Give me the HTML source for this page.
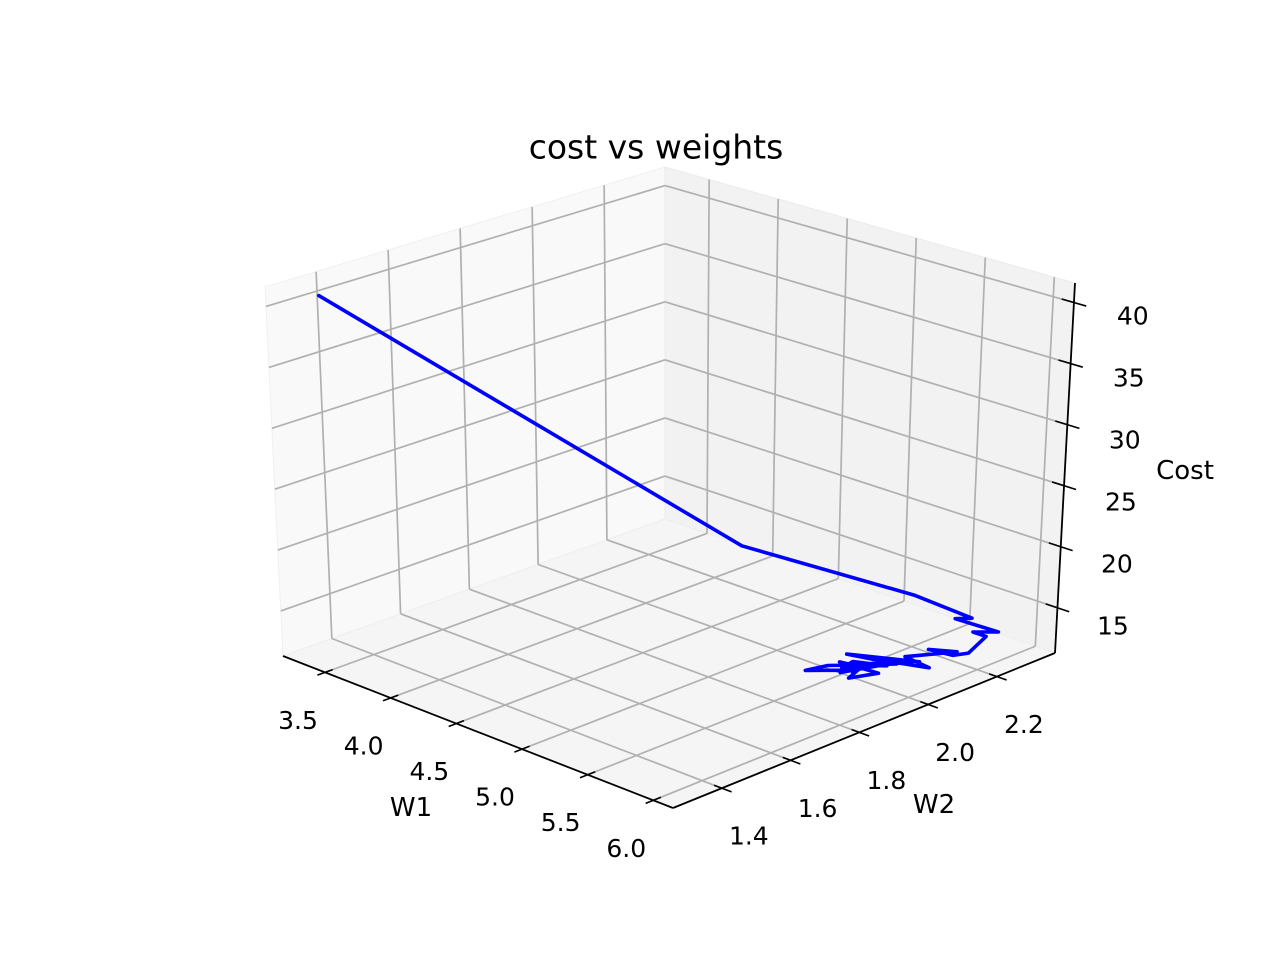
<!DOCTYPE html>
<html><head><meta charset="utf-8"><style>
html,body{margin:0;padding:0;background:#fff;}
svg{display:block;font-family:"DejaVu Sans","Liberation Sans",sans-serif;}
</style></head><body>
<svg id="chart" width="1280" height="960" viewBox="0 0 1280 960" xmlns="http://www.w3.org/2000/svg">
<rect width="1280" height="960" fill="#fff"/>
<text x="656" y="147" font-size="33" text-anchor="middle" dominant-baseline="central">cost vs weights</text>
<g id="panes"></g><g id="grid"></g><g id="axes"></g><g id="series"></g><g id="labels"></g>
</svg>
<script>
const w1Ticks=[3.5,4.0,4.5,5.0,5.5,6.0];
const w2Ticks=[1.4,1.6,1.8,2.0,2.2];
const costTicks=[15,20,25,30,35,40];
const w1Values=[3.38,5.06,5.71,5.97,5.87,6.07,5.93,5.98,5.98,5.94,5.78,5.92,5.76,5.97,5.67,5.87,5.50,5.80,5.54,5.50,5.64,5.69,5.75,5.82,5.55,5.69,5.62,5.60,5.78,5.58,5.72,5.66,5.80,5.62,5.70];
const w2Values=[1.33,1.87,2.12,2.19,2.18,2.23,2.21,2.23,2.18,2.15,2.14,2.17,2.08,2.07,2.03,2.08,2.01,2.04,1.94,1.89,1.94,1.98,1.92,1.98,1.97,1.98,1.95,1.99,2.02,1.96,2.00,1.93,2.06,1.97,1.95];
const costValues=[41,21.5,17.2,15.5,15.2,14.3,14.0,13.6,12.8,12.8,12.8,12.8,12.8,12.8,12.8,12.8,12.8,12.8,12.8,12.8,12.8,12.8,12.8,12.8,12.8,12.8,12.8,12.8,12.8,12.8,12.8,12.8,12.8,12.8,12.8];
const X0=3.18,X1=6.15,Y0=1.258,Y1=2.369,Z0=11.3,Z1=41.6;
const C={"000":[283,656],"100":[673,808],"110":[1055,653],"010":[665,519],
"001":[265,287],"101":[675,423],"111":[1075,283],"011":[665,167]};
function L(a,b,t){return [a[0]+(b[0]-a[0])*t,a[1]+(b[1]-a[1])*t];}
function P(u,v,w){
 const b0=L(L(C["000"],C["100"],u),L(C["010"],C["110"],u),v);
 const b1=L(L(C["001"],C["101"],u),L(C["011"],C["111"],u),v);
 return L(b0,b1,w);}
const U=x=>(x-X0)/(X1-X0),V=y=>(y-Y0)/(Y1-Y0),W=z=>(z-Z0)/(Z1-Z0);
const NS="http://www.w3.org/2000/svg";
function mk(tag,attrs,parent){const e=document.createElementNS(NS,tag);for(const k in attrs)e.setAttribute(k,attrs[k]);document.getElementById(parent).appendChild(e);return e;}
function poly(pts){return pts.map(p=>p[0].toFixed(1)+","+p[1].toFixed(1)).join(" ");}
function line(a,b,stroke,sw,parent,name){const e=mk("line",{x1:a[0],y1:a[1],x2:b[0],y2:b[1],stroke:stroke,"stroke-width":sw},parent);


return e;}
let e;
e=mk("polygon",{points:poly([P(0,0,0),P(0,1,0),P(0,1,1),P(0,0,1)]),fill:"#f9f9f9",stroke:"#f0f0f0"},"panes");


e=mk("polygon",{points:poly([P(0,1,0),P(1,1,0),P(1,1,1),P(0,1,1)]),fill:"#f2f2f2",stroke:"#ebebeb"},"panes");


e=mk("polygon",{points:poly([P(0,0,0),P(1,0,0),P(1,1,0),P(0,1,0)]),fill:"#f5f5f5",stroke:"#eeeeee"},"panes");


const G="#b0b0b0";
w1Ticks.forEach(t=>{const u=U(t);line(P(u,0,0),P(u,1,0),G,1.7,"grid","w1-gridline");line(P(u,1,0),P(u,1,1),G,1.7,"grid","w1-gridline");});
w2Ticks.forEach(t=>{const v=V(t);line(P(0,v,0),P(1,v,0),G,1.7,"grid","w2-gridline");line(P(0,v,0),P(0,v,1),G,1.7,"grid","w2-gridline");});
costTicks.forEach(t=>{const w=W(t);line(P(0,0,w),P(0,1,w),G,1.7,"grid","cost-gridline");line(P(0,1,w),P(1,1,w),G,1.7,"grid","cost-gridline");});
line(P(0,0,0),P(1,0,0),"#000",1.8,"axes","w1-axis-line");
line(P(1,0,0),P(1,1,0),"#000",1.8,"axes","w2-axis-line");
line(P(1,1,0),P(1,1,1),"#000",1.8,"axes","cost-axis-line");
function txt(x,y,s,name,size){const t=mk("text",{x:x,y:y,"font-size":size||25,"text-anchor":"middle","dominant-baseline":"central"},"labels");t.textContent=s;

}
w1Ticks.forEach(t=>{const u=U(t);line(P(u,-0.02,0),P(u,0.02,0),"#000",1.6,"axes","w1-tick");const p=P(u,0,0);txt(p[0]-27,p[1]+48,t.toFixed(1),"w1-tick-label");});
w2Ticks.forEach(t=>{const v=V(t);line(P(0.98,v,0),P(1.025,v,0),"#000",1.6,"axes","w2-tick");const p=P(1,v,0);txt(p[0]+27,p[1]+48,t.toFixed(1),"w2-tick-label");});
costTicks.forEach(t=>{const w=W(t);line(P(0.97,1,w),P(1.03,1,w),"#000",1.6,"axes","cost-tick");const p=P(1,1,w);txt(p[0]+55+4*w,p[1]+19-6*w,String(t),"cost-tick-label");});
txt(411,808,"W1","w1-axis-title",26);
txt(934,805,"W2","w2-axis-title",26);
txt(1185,471,"Cost","cost-axis-title",26);
const pts=w1Values.map((x,i)=>P(U(x),V(w2Values[i]),W(costValues[i])));
e=mk("polyline",{points:poly(pts),fill:"none",stroke:"#0000ff","stroke-width":3.6,"stroke-linejoin":"round","stroke-linecap":"round"},"series");


</script>
</body></html>
